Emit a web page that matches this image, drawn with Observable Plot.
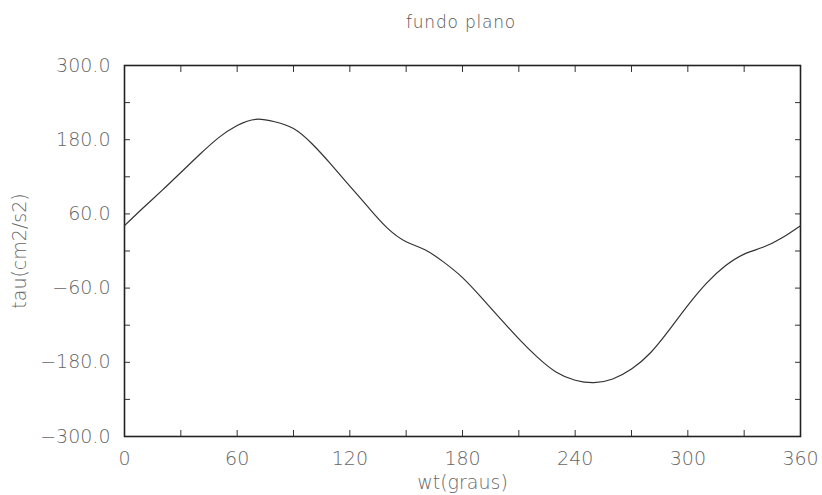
<!DOCTYPE html>
<html>
<head>
<meta charset="utf-8">
<script src="https://cdn.jsdelivr.net/npm/d3@7"></script>
<script src="https://cdn.jsdelivr.net/npm/@observablehq/plot@0.6"></script>
<style>
  html, body { margin: 0; padding: 0; background: #fff; }
  #title { width: 822px; height: 40px; box-sizing: border-box; padding-left: 100px; text-align: center;
           font-family: "DejaVu Sans", sans-serif; font-weight: 300; font-size: 17px; letter-spacing: 0.8px; color: #555; line-height: 44px; }
</style>
</head>
<body>
<div id="title">fundo plano</div>
<div id="chart"></div>
<script>
const title = "fundo plano";
const xLabel = "wt(graus)";
const yLabel = "tau(cm2/s2)";
const wt = [0,10,20,30,40,50,60,70,80,90,100,110,120,130,140,150,160,170,180,190,200,210,220,230,240,250,260,270,280,290,300,310,320,330,340,350,360];
const tau = [41,70,98,127,156,183,203,213,209,198,173,140,105,70,37,15,2,-18,-43,-75,-109,-142,-172,-196,-209,-213,-207,-191,-165,-128,-88,-52,-24,-5,6,21,41];
const xTickValues = [0,30,60,90,120,150,180,210,240,270,300,330,360];
const xLabelValues = [0,60,120,180,240,300,360];
const yTickValues = [-300,-240,-180,-120,-60,0,60,120,180,240,300];
const yLabelValues = [-300,-180,-60,60,180,300];

const data = wt.map((x, i) => ({wt: x, tau: tau[i]}));
const font = {fontSize: 19, fill: "#666", fontWeight: 300};

const chart = Plot.plot({
  width: 822,
  height: 455,
  marginLeft: 124,
  marginRight: 22,
  marginTop: 25,
  marginBottom: 59,
  style: {fontFamily: "DejaVu Sans, sans-serif", background: "#fff", color: "#666"},
  x: {domain: [0, 360]},
  y: {domain: [-300, 300]},
  marks: [
    Plot.axisX(xTickValues, {anchor: "bottom", tickSize: -6, tickFormat: () => "", label: null, stroke: "#333"}),
    Plot.axisX(xTickValues, {anchor: "top", tickSize: -6, tickFormat: () => "", label: null, stroke: "#333"}),
    Plot.axisY(yTickValues, {anchor: "left", tickSize: -6, tickFormat: () => "", label: null, stroke: "#333"}),
    Plot.axisY(yTickValues, {anchor: "right", tickSize: -6, tickFormat: () => "", label: null, stroke: "#333"}),
    Plot.axisX(xLabelValues, {anchor: "bottom", tickSize: 0, tickPadding: 15, tickFormat: d => String(d),
      label: xLabel, labelAnchor: "center", labelArrow: "none", labelOffset: 52, ...font}),
    Plot.axisY(yLabelValues, {anchor: "left", tickSize: 0, tickPadding: 14, tickFormat: d => d3.format(".1f")(d).replace("-", "\u2212"),
      label: yLabel, labelAnchor: "center", labelArrow: "none", labelOffset: 112, ...font}),
    Plot.frame({stroke: "#222", strokeWidth: 1.6}),
    Plot.line(data, {x: "wt", y: "tau", curve: "natural", stroke: "#333", strokeWidth: 1.2})
  ]
});
document.getElementById("chart").appendChild(chart);
</script>
</body>
</html>
